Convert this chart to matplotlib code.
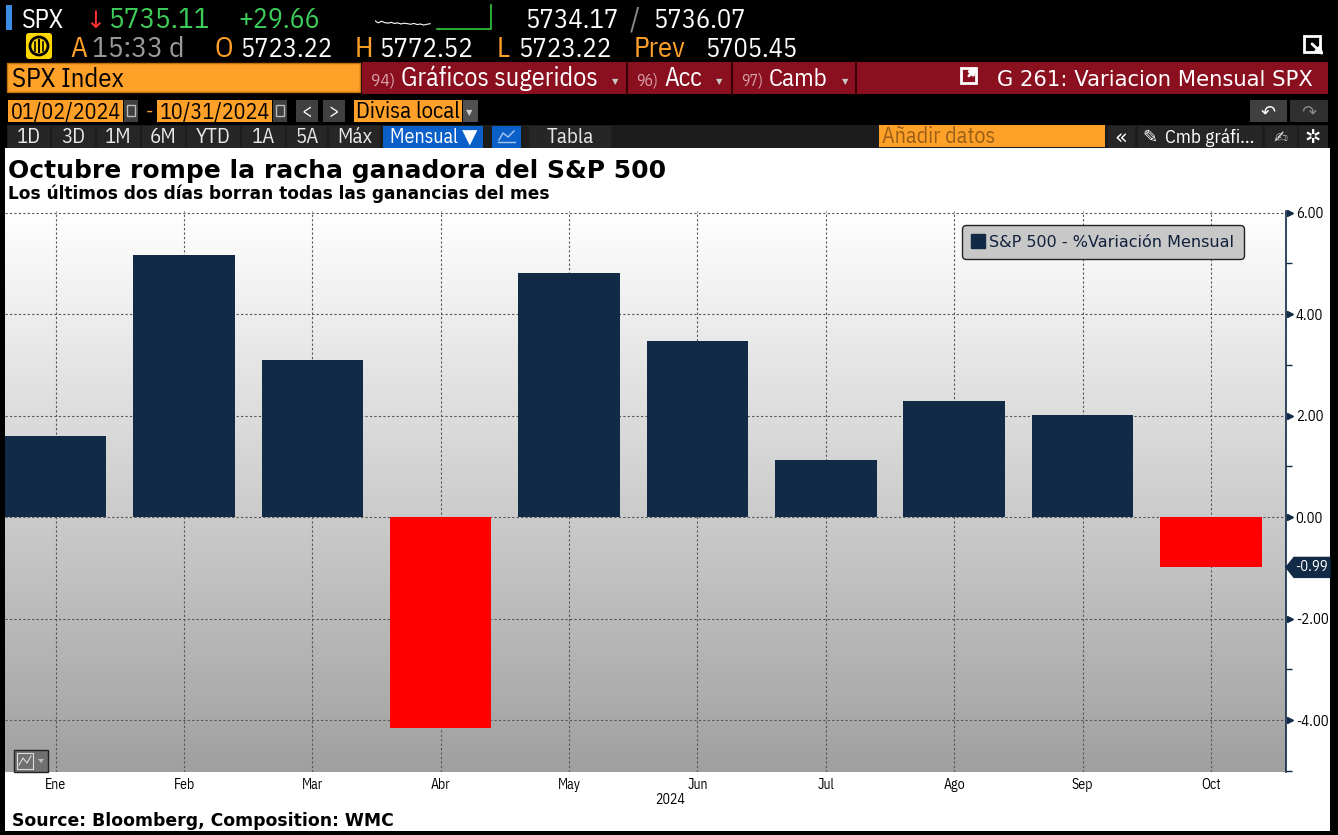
import matplotlib
matplotlib.use('Agg')
import matplotlib.pyplot as plt
import numpy as np
from matplotlib import font_manager
from matplotlib.patches import Rectangle, FancyBboxPatch, Polygon
from matplotlib.lines import Line2D
from matplotlib.colors import LinearSegmentedColormap
import matplotlib.transforms as mtransforms

# datos: variacion mensual del S&P 500 en 2024 (%)
meses = ['Ene', 'Feb', 'Mar', 'Abr', 'May', 'Jun', 'Jul', 'Ago', 'Sep', 'Oct']
variacion = [1.59, 5.17, 3.10, -4.16, 4.80, 3.47, 1.13, 2.28, 2.02, -0.99]
yticks = [-4, -2, 0, 2, 4, 6]
yminor = [-5, -3, -1, 1, 3, 5]

# cabecera del terminal
ticker = 'SPX'
last = '5735.11'
change = '+29.66'
bid, ask = '5734.17', '5736.07'
hora = '15:33 d'
open_, high, low, prev = '5723.22', '5772.52', '5723.22', '5705.45'
spark_prev = [0.62, 0.70, 0.64, 0.69, 0.71, 0.68, 0.72, 0.70, 0.74, 0.71, 0.73, 0.75, 0.72, 0.76, 0.74, 0.78, 0.75, 0.73]
spark_hoy = [0.92, 0.92, 0.92, 0.92, 0.92, 0.92, 0.92, 0.92, 0.92, 0.05]
botones = ['1D', '3D', '1M', '6M', 'YTD', '1A', '5A', 'Máx']

W, H = 1338, 835
NAVY = '#112a46'
RED = '#ff0000'
ORANGE = '#ffa028'
DRED = '#8a1020'

names = {f.name for f in font_manager.fontManager.ttflist}
NARROW = 'DejaVu Sans'
for cand in ['IBM Plex Sans Condensed', 'Roboto Condensed', 'Liberation Sans Narrow']:
    if cand in names:
        NARROW = cand
        break
FAM = [NARROW, 'DejaVu Sans']

fig = plt.figure(figsize=(W / 100, H / 100), dpi=100, facecolor='black')
bg = fig.add_axes([0, 0, 1, 1])
bg.set_xlim(0, W)
bg.set_ylim(H, 0)
bg.axis('off')
rend = fig.canvas.get_renderer()


def rect(x0, y0, x1, y1, fc, ec='none', lw=0, ax=None, z=1):
    a = ax if ax is not None else bg
    a.add_patch(Rectangle((x0, y0), x1 - x0, y1 - y0, fc=fc, ec=ec, lw=lw, zorder=z))


def put(x, y, s, color, size, x1=None, weight='normal', fam=FAM, ha='left', ax=None):
    a = ax if ax is not None else bg
    t = a.text(x, y, s, color=color, fontsize=size, fontweight=weight, family=fam,
               va='baseline', ha=ha, zorder=5)
    if x1 is not None:
        w = t.get_window_extent(rend).width
        t.set_fontsize(size * (x1 - x) / w)
    return t


# ---- fila 1
rect(6, 5, 12, 30, '#3a8ee6')
put(22, 28, ticker, 'white', 21, x1=64)
put(85, 28, '↓', '#ff3030', 17, fam=['DejaVu Sans'])
put(108, 28, last, '#3dcc5a', 21, x1=209)
put(238, 28, change, '#3dcc5a', 21, x1=319)
sp = fig.add_axes([375 / W, 1 - 31 / H, 120 / W, 27 / H])
sp.set_facecolor('none')
sp.axis('off')
sp.set_ylim(1, 0)
sp.set_xlim(0, 1)
sp.plot(np.linspace(0, 0.46, len(spark_prev)), spark_prev, color='white', lw=0.8)
sp.plot(np.linspace(0.52, 0.97, len(spark_hoy) - 1).tolist() + [0.97], spark_hoy, color='#2ecc40', lw=1.2)
put(525, 28, bid, 'white', 21, x1=618)
put(630, 28, '/', '#888888', 21)
put(653, 28, ask, 'white', 21, x1=745)

# ---- fila 2
bg.add_patch(FancyBboxPatch((26, 33), 26, 26, boxstyle='round,pad=0,rounding_size=3', fc='#ffd800', ec='none'))
bg.add_patch(plt.Circle((39, 46), 9, fc='none', ec='black', lw=2))
bg.plot([39, 39], [40, 52], color='black', lw=1.5)
bg.plot([35, 35], [42, 51], color='black', lw=1.2)
bg.plot([43, 43], [42, 51], color='black', lw=1.2)
put(70, 57, 'A', ORANGE, 21)
put(92, 57, hora, '#9a9a9a', 21, x1=184)
put(215, 57, 'O', ORANGE, 21)
put(240, 57, open_, 'white', 21, x1=332)
put(355, 57, 'H', ORANGE, 21)
put(379, 57, high, 'white', 21, x1=473)
put(497, 57, 'L', ORANGE, 21)
put(518, 57, low, 'white', 21, x1=611)
put(634, 57, 'Prev', ORANGE, 21, x1=686)
put(705, 57, prev, 'white', 21, x1=797)
rect(1304, 36, 1320, 52, 'none', ec='white', lw=2)
bg.annotate('', xy=(1326, 57), xytext=(1310, 42), arrowprops=dict(arrowstyle='-|>', color='white', lw=2))

# ---- fila 3
rect(7, 63, 360, 92, ORANGE, ec='#c07010', lw=1)
put(12, 87, 'SPX Index', 'black', 19, x1=124)
rect(362, 62, 1328, 94, DRED)
for xs in [627, 732, 856]:
    bg.plot([xs, xs], [62, 94], color='#3a0008', lw=1.5)
put(371, 86, '94)', '#d8a0a8', 16, x1=395)
put(401, 86, 'Gráficos sugeridos', 'white', 19, x1=598)
put(612, 84, '▼', '#c8c8c8', 6, fam=['DejaVu Sans'])
put(636, 86, '96)', '#d8a0a8', 16, x1=658)
put(664, 86, 'Acc', 'white', 19, x1=702)
put(716, 84, '▼', '#c8c8c8', 6, fam=['DejaVu Sans'])
put(741, 86, '97)', '#d8a0a8', 16, x1=763)
put(769, 86, 'Camb', 'white', 19, x1=828)
put(842, 84, '▼', '#c8c8c8', 6, fam=['DejaVu Sans'])
rect(961, 68, 976, 83, 'none', ec='white', lw=2)
bg.annotate('', xy=(979, 65), xytext=(967, 78), arrowprops=dict(arrowstyle='-|>', color='white', lw=2))
put(997, 86, 'G 261: Variacion Mensual SPX', 'white', 17, x1=1313, fam=['DejaVu Sans'])

# ---- fila 4
rect(8, 100, 123, 122, ORANGE)
put(11, 118, '01/02/2024', 'black', 17, x1=121)
rect(124, 100, 138, 122, '#404040')
rect(127, 105, 135, 116, 'none', ec='#bbbbbb', lw=1)
put(146, 118, '-', ORANGE, 15)
rect(157, 100, 272, 122, ORANGE)
put(160, 118, '10/31/2024', 'black', 17, x1=270)
rect(273, 100, 287, 122, '#404040')
rect(276, 105, 284, 116, 'none', ec='#bbbbbb', lw=1)
rect(296, 100, 318, 122, '#404040')
put(307, 117, '<', 'white', 14, ha='center')
rect(323, 100, 345, 122, '#404040')
put(334, 117, '>', 'white', 14, ha='center')
rect(354, 100, 462, 122, ORANGE)
put(356, 118, 'Divisa local', 'black', 17, x1=460)
rect(463, 100, 478, 122, '#505050')
put(466, 115, '▼', '#cccccc', 6, fam=['DejaVu Sans'])
rect(1250, 100, 1287, 122, '#404040')
put(1268, 118, '↶', 'white', 13, fam=['DejaVu Sans'], ha='center')
rect(1290, 100, 1328, 122, '#303030')
put(1309, 118, '↷', '#888888', 13, fam=['DejaVu Sans'], ha='center')

# ---- fila 5
rect(7, 125, 1328, 148, '#1c1c1c')
bx = [8, 52, 97, 142, 187, 242, 287, 329]
bx1 = [50, 95, 140, 185, 240, 285, 327, 380]
for x0, x1, lab in zip(bx, bx1, botones):
    rect(x0, 126, x1, 148, '#262626')
    put((x0 + x1) / 2, 143, lab, '#e8e8e8', 15, ha='center')
rect(383, 126, 483, 148, '#0a5fc8')
put(390, 143, 'Mensual ▼', 'white', 15, x1=478)
rect(492, 126, 521, 148, '#0a5fc8')
bg.plot([499, 503, 508, 514], [140, 133, 137, 131], color='#a8c8f0', lw=1)
bg.plot([498, 515], [142, 142], color='#a8c8f0', lw=1)
rect(529, 126, 611, 148, '#262626')
put(570, 143, 'Tabla', '#e8e8e8', 15, ha='center')
rect(879, 125, 1105, 147, ORANGE)
put(882, 143, 'Añadir datos', '#9a6018', 16, x1=996)
rect(1108, 126, 1135, 148, '#262626')
put(1121, 143, '«', 'white', 15, ha='center', fam=['DejaVu Sans'])
rect(1138, 126, 1262, 148, '#262626')
put(1142, 143, '✎', 'white', 13, fam=['DejaVu Sans'])
put(1165, 143, 'Cmb gráfi...', 'white', 15, x1=1255)
rect(1265, 126, 1297, 148, '#262626')
put(1281, 143, '✍', '#dddddd', 12, fam=['DejaVu Sans'], ha='center')
rect(1299, 126, 1328, 148, '#262626')
put(1313, 143, '✲', 'white', 14, fam=['DejaVu Sans'], ha='center')

# ---- panel blanco
rect(5, 148, 1330, 831, 'white', z=0)
put(8, 178, 'Octubre rompe la racha ganadora del S&P 500', 'black', 18, x1=665, weight='bold',
    fam=['DejaVu Sans'])
put(8, 199, 'Los últimos dos días borran todas las ganancias del mes', 'black', 12, x1=547,
    weight='bold', fam=['DejaVu Sans'])
put(12, 826, 'Source: Bloomberg, Composition: WMC', 'black', 13, x1=390, weight='bold',
    fam=['DejaVu Sans'])
put(670, 804, '2024', 'black', 10, ha='center', fam=FAM)

# ---- grafico
L, R, T, B = 5, 1286, 211, 772
ax = fig.add_axes([L / W, 1 - B / H, (R - L) / W, (B - T) / H])
x = np.arange(len(meses))
ax.set_xlim(-0.395, len(meses) - 1 + 0.585)
ax.set_ylim(-5.02, 6.03)
cmap = LinearSegmentedColormap.from_list('g', ['#ffffff', '#a0a0a0'])
ax.imshow(np.linspace(0, 1, 256).reshape(-1, 1), cmap=cmap, aspect='auto',
          extent=[*ax.get_xlim(), *ax.get_ylim()], zorder=0)
colores = [NAVY if v >= 0 else RED for v in variacion]
ax.bar(x, variacion, width=0.79, color=colores, zorder=3)

ax.set_xticks(x)
ax.set_xticklabels(meses, family=FAM, fontsize=10)
ax.set_yticks(yticks)
ax.set_yticks(yminor, minor=True)
ax.set_yticklabels([f'{v:.2f}' for v in yticks], family=FAM, fontsize=10.5)
ax.yaxis.tick_right()
ax.tick_params(axis='x', length=0, pad=4)
ax.tick_params(axis='y', which='major', length=0, pad=7)
ax.tick_params(axis='y', which='minor', length=4, width=1, color=NAVY, direction='out')
ax.grid(True, which='major', color='#555555', lw=0.8, ls=(0, (2, 2)), zorder=1)
for s in ['top', 'left', 'bottom']:
    ax.spines[s].set_visible(False)
ax.spines['right'].set_color(NAVY)
ax.spines['right'].set_linewidth(1.2)
ax.spines['right'].set_zorder(4)

off = mtransforms.offset_copy(ax.get_yaxis_transform(), fig=fig, x=3.5, y=0, units='dots')
ax.plot(np.ones(len(yticks)), yticks, transform=off, marker='>', ms=5, ls='', color=NAVY,
        clip_on=False, zorder=5)

h = Line2D([], [], marker='s', ls='', color=NAVY, ms=10)
leg = ax.legend([h], ['S&P 500 - %Variación Mensual'], loc='upper right',
                bbox_to_anchor=(0.967, 0.975), borderaxespad=0, fancybox=True,
                handlelength=0.8, handletextpad=0.3, borderpad=0.6, framealpha=1,
                prop={'family': 'DejaVu Sans', 'size': 11.5})
leg.get_frame().set_facecolor('#c8c8c8')
leg.get_frame().set_edgecolor('#222222')
leg.get_frame().set_boxstyle('round,pad=0,rounding_size=0.25')
for t in leg.get_texts():
    t.set_color('#10203a')

# etiqueta del ultimo valor en el eje
fg = fig.add_axes([0, 0, 1, 1])
fg.set_xlim(0, W)
fg.set_ylim(H, 0)
fg.axis('off')
fg.patch.set_alpha(0)
yl = H - ax.transData.transform((0, variacion[-1]))[1]
fg.add_patch(Polygon([(1286, yl), (1294, yl - 10), (1330, yl - 10), (1330, yl + 10), (1294, yl + 10)],
                     closed=True, fc=NAVY, ec=NAVY))
fg.text(1311, yl, f'{variacion[-1]:.2f}', color='white', fontsize=10.5, family=FAM,
        ha='center', va='center')

# icono abajo a la izquierda
fg.add_patch(Rectangle((14, 750), 34, 22, fc='#707070', ec='#222222', lw=1))
fg.add_patch(Rectangle((17, 753), 16, 16, fc='none', ec='#dddddd', lw=0.8))
fg.plot([19, 23, 27, 31], [765, 758, 763, 756], color='#dddddd', lw=0.8)
fg.add_patch(Polygon([(38, 759), (44, 759), (41, 763)], fc='#bbbbbb', ec='none'))

fig.savefig('out.png', dpi=100, facecolor='black')
